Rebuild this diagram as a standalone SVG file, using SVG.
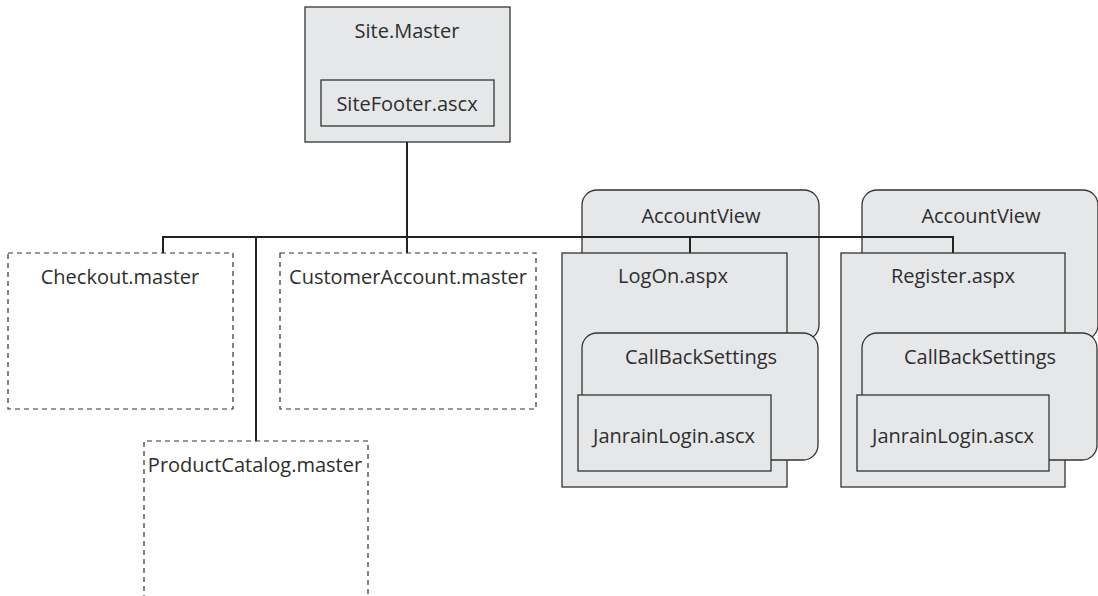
<svg xmlns="http://www.w3.org/2000/svg" width="1098" height="596" viewBox="0 0 1098 596">
<style>
.box{fill:#e6e7e8;stroke:#333;stroke-width:1.3}
.dash{fill:#fff;stroke:#333;stroke-width:1.2;stroke-dasharray:5 4}
.t{font-family:"Open Sans","Liberation Sans",sans-serif;font-size:20px;fill:#2e2e2e;text-anchor:middle}
.con{fill:none;stroke:#222;stroke-width:2}
</style>
<rect width="1098" height="596" fill="#fff"/>
<g id="site-master">
<rect class="box" x="305" y="7" width="205" height="135"/>
<text class="t" x="407" y="38">Site.Master</text>
<rect class="box" x="321" y="80" width="173" height="46"/>
<text class="t" x="407" y="111">SiteFooter.ascx</text>
</g>
<g id="checkout">
<rect class="dash" x="8" y="253" width="225" height="156"/>
<text class="t" x="120" y="284">Checkout.master</text>
</g>
<g id="customer-account">
<rect class="dash" x="280" y="253" width="256" height="156"/>
<text class="t" x="408" y="284">CustomerAccount.master</text>
</g>
<g id="product-catalog">
<path class="dash" d="M144 600 V441 H368 V600"/>
<text class="t" x="255" y="472">ProductCatalog.master</text>
</g>
<g id="accountview-1">
<rect class="box" x="582" y="190" width="237" height="150" rx="15"/>
<text class="t" x="701" y="223">AccountView</text>
</g>
<g id="accountview-2">
<rect class="box" x="862" y="190" width="236" height="150" rx="15"/>
<text class="t" x="981" y="223">AccountView</text>
</g>
<g id="connectors">
<path class="con" d="M407 142 V253"/>
<path class="con" d="M163 253 V237 H953 V253"/>
<path class="con" d="M256 237 V441"/>
<path class="con" d="M690 237 V253"/>
</g>
<g id="logon">
<rect class="box" x="562" y="253" width="225" height="234"/>
<text class="t" x="673" y="283">LogOn.aspx</text>
<rect class="box" x="582" y="333" width="236" height="127" rx="15"/>
<text class="t" x="701" y="364">CallBackSettings</text>
<rect class="box" x="578" y="395" width="193" height="76"/>
<text class="t" x="674" y="443">JanrainLogin.ascx</text>
</g>
<g id="register">
<rect class="box" x="841" y="253" width="224" height="234"/>
<text class="t" x="953" y="283">Register.aspx</text>
<rect class="box" x="862" y="333" width="235" height="127" rx="15"/>
<text class="t" x="980" y="364">CallBackSettings</text>
<rect class="box" x="857" y="395" width="192" height="76"/>
<text class="t" x="953" y="443">JanrainLogin.ascx</text>
</g>
</svg>
